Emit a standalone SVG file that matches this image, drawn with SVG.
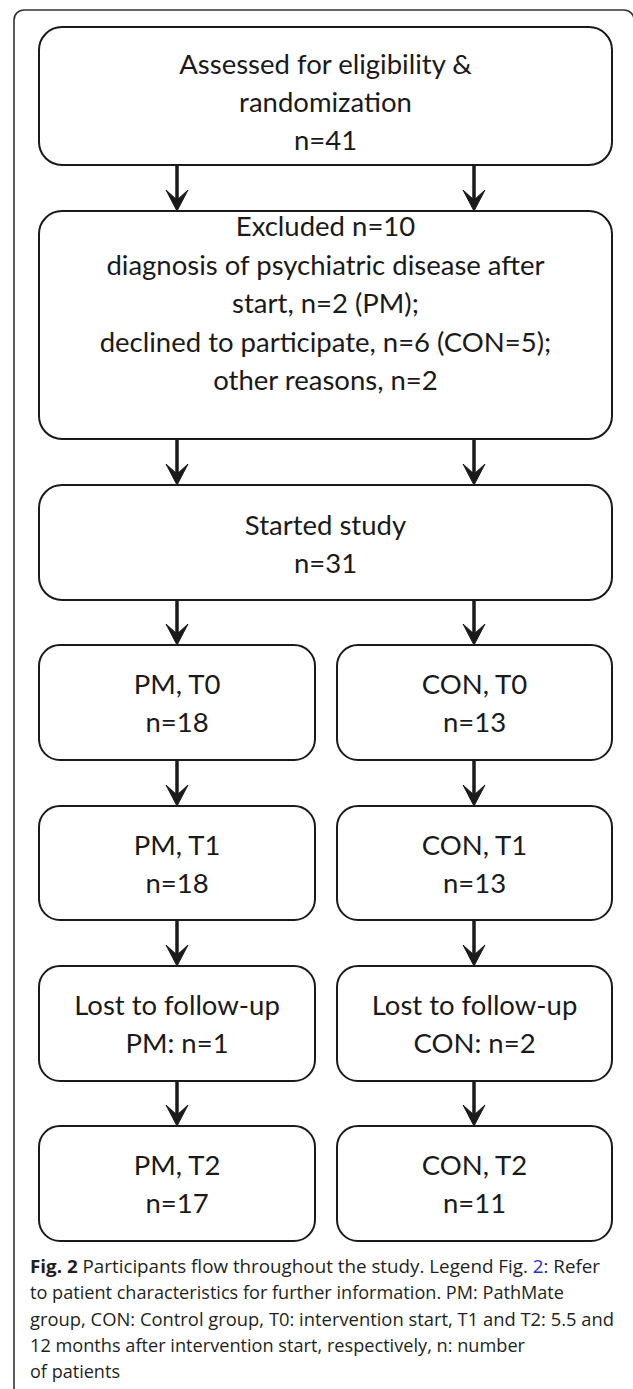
<svg xmlns="http://www.w3.org/2000/svg" width="633" height="1389" viewBox="0 0 633 1389">
<style>
.frame{fill:none;stroke:#333;stroke-width:1.6}
.box{fill:#fff;stroke:#1a1a1a;stroke-width:2}
.t{font-family:Lato,"Open Sans",sans-serif;font-size:27.5px;fill:#1a1a1a;text-anchor:middle}
.cap{font-family:"Open Sans","Noto Sans",sans-serif;font-size:18.5px;fill:#231f20}
.shaft{stroke:#1a1a1a;stroke-width:3.5;fill:none}
</style>
<defs>
<path id="head" d="M0,0 L-11,-21 L0,-11 L11,-21 Z" fill="#1a1a1a" stroke="#1a1a1a" stroke-width="1" stroke-linejoin="round"/>
</defs>
<rect width="633" height="1389" fill="#fff"/>
<path class="frame" d="M14,1389 V20 A10,10 0 0 1 24,10 H624 A10,10 0 0 1 634,20 V1389"/>

<g id="assessed">
<rect class="box" x="39" y="27" width="573" height="138" rx="23"/>
<text class="t" x="325.5" y="74">Assessed for eligibility &amp;</text>
<text class="t" x="325.5" y="112">randomization</text>
<text class="t" x="325.5" y="150">n=41</text>
</g>
<g id="excluded">
<rect class="box" x="39" y="211" width="573" height="228" rx="23"/>
<text class="t" x="325.5" y="236">Excluded n=10</text>
<text class="t" x="325.5" y="274.5">diagnosis of psychiatric disease after</text>
<text class="t" x="325.5" y="313">start, n=2 (PM);</text>
<text class="t" x="325.5" y="351.5">declined to participate, n=6 (CON=5);</text>
<text class="t" x="325.5" y="390">other reasons, n=2</text>
</g>
<g id="started">
<rect class="box" x="39" y="485" width="573" height="115" rx="23"/>
<text class="t" x="325.5" y="535">Started study</text>
<text class="t" x="325.5" y="573">n=31</text>
</g>
<g id="pm-t0">
<rect class="box" x="39" y="645" width="276" height="115" rx="21"/>
<text class="t" x="177" y="694">PM, T0</text>
<text class="t" x="177" y="732">n=18</text>
</g>
<g id="con-t0">
<rect class="box" x="337" y="645" width="275" height="115" rx="21"/>
<text class="t" x="474.5" y="694">CON, T0</text>
<text class="t" x="474.5" y="732">n=13</text>
</g>
<g id="pm-t1">
<rect class="box" x="39" y="806" width="276" height="114" rx="21"/>
<text class="t" x="177" y="855">PM, T1</text>
<text class="t" x="177" y="893">n=18</text>
</g>
<g id="con-t1">
<rect class="box" x="337" y="806" width="275" height="114" rx="21"/>
<text class="t" x="474.5" y="855">CON, T1</text>
<text class="t" x="474.5" y="893">n=13</text>
</g>
<g id="pm-lost">
<rect class="box" x="39" y="966" width="276" height="115" rx="21"/>
<text class="t" x="177" y="1015">Lost to follow-up</text>
<text class="t" x="177" y="1053">PM: n=1</text>
</g>
<g id="con-lost">
<rect class="box" x="337" y="966" width="275" height="115" rx="21"/>
<text class="t" x="474.5" y="1015">Lost to follow-up</text>
<text class="t" x="474.5" y="1053">CON: n=2</text>
</g>
<g id="pm-t2">
<rect class="box" x="39" y="1126" width="276" height="115" rx="21"/>
<text class="t" x="177" y="1175">PM, T2</text>
<text class="t" x="177" y="1213">n=17</text>
</g>
<g id="con-t2">
<rect class="box" x="337" y="1126" width="275" height="115" rx="21"/>
<text class="t" x="474.5" y="1175">CON, T2</text>
<text class="t" x="474.5" y="1213">n=11</text>
</g>

<g id="connectors">
<line class="shaft" x1="177" y1="166" x2="177" y2="200"/><use href="#head" x="177" y="211"/>
<line class="shaft" x1="474" y1="166" x2="474" y2="200"/><use href="#head" x="474" y="211"/>
<line class="shaft" x1="177" y1="440" x2="177" y2="474"/><use href="#head" x="177" y="485"/>
<line class="shaft" x1="474" y1="440" x2="474" y2="474"/><use href="#head" x="474" y="485"/>
<line class="shaft" x1="177" y1="601" x2="177" y2="634"/><use href="#head" x="177" y="645"/>
<line class="shaft" x1="474" y1="601" x2="474" y2="634"/><use href="#head" x="474" y="645"/>
<line class="shaft" x1="177" y1="761" x2="177" y2="795"/><use href="#head" x="177" y="806"/>
<line class="shaft" x1="474" y1="761" x2="474" y2="795"/><use href="#head" x="474" y="806"/>
<line class="shaft" x1="177" y1="921" x2="177" y2="955"/><use href="#head" x="177" y="966"/>
<line class="shaft" x1="474" y1="921" x2="474" y2="955"/><use href="#head" x="474" y="966"/>
<line class="shaft" x1="177" y1="1082" x2="177" y2="1115"/><use href="#head" x="177" y="1126"/>
<line class="shaft" x1="474" y1="1082" x2="474" y2="1115"/><use href="#head" x="474" y="1126"/>
</g>

<g id="caption">
<text class="cap" x="30" y="1273" textLength="570" lengthAdjust="spacingAndGlyphs"><tspan font-weight="bold">Fig. 2</tspan> Participants flow throughout the study. Legend Fig. <tspan fill="#2b2bd9">2</tspan>: Refer</text>
<text class="cap" x="30" y="1299" textLength="534" lengthAdjust="spacingAndGlyphs">to patient characteristics for further information. PM: PathMate</text>
<text class="cap" x="30" y="1326" textLength="584" lengthAdjust="spacingAndGlyphs">group, CON: Control group, T0: intervention start, T1 and T2: 5.5 and</text>
<text class="cap" x="30" y="1352" textLength="495" lengthAdjust="spacingAndGlyphs">12 months after intervention start, respectively, n: number</text>
<text class="cap" x="30" y="1378" textLength="90" lengthAdjust="spacingAndGlyphs">of patients</text>
</g>
</svg>
